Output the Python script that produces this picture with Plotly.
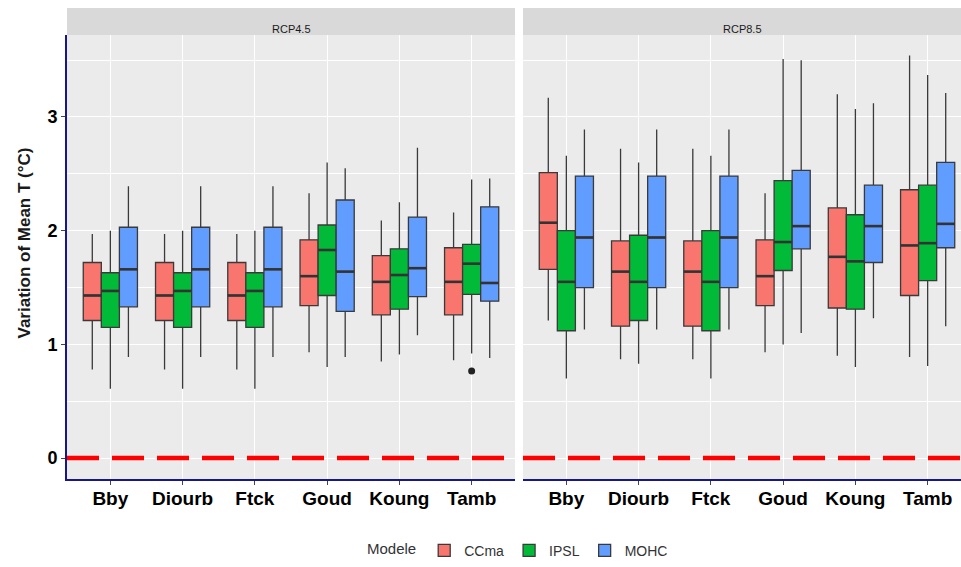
import plotly.graph_objects as go

# ---- data ----------------------------------------------------------------
stations = ["Bby", "Diourb", "Ftck", "Goud", "Koung", "Tamb"]
models = ["CCma", "IPSL", "MOHC"]
scenarios = ["RCP4.5", "RCP8.5"]

# RCP4.5 box statistics per model (one value per station)
rcp45_ccma_low = [0.78, 0.78, 0.78, 0.93, 0.85, 0.86]
rcp45_ccma_q1 = [1.21, 1.21, 1.21, 1.34, 1.26, 1.26]
rcp45_ccma_med = [1.43, 1.43, 1.43, 1.60, 1.55, 1.55]
rcp45_ccma_q3 = [1.72, 1.72, 1.72, 1.92, 1.78, 1.85]
rcp45_ccma_up = [1.97, 1.97, 1.97, 2.33, 2.09, 2.16]

rcp45_ipsl_low = [0.61, 0.61, 0.61, 0.80, 0.91, 0.92]
rcp45_ipsl_q1 = [1.15, 1.15, 1.15, 1.43, 1.31, 1.44]
rcp45_ipsl_med = [1.47, 1.47, 1.47, 1.83, 1.61, 1.71]
rcp45_ipsl_q3 = [1.63, 1.63, 1.63, 2.05, 1.84, 1.88]
rcp45_ipsl_up = [2.00, 2.00, 2.00, 2.60, 2.25, 2.45]

rcp45_mohc_low = [0.89, 0.89, 0.89, 0.89, 1.08, 0.88]
rcp45_mohc_q1 = [1.33, 1.33, 1.33, 1.29, 1.42, 1.38]
rcp45_mohc_med = [1.66, 1.66, 1.66, 1.64, 1.67, 1.54]
rcp45_mohc_q3 = [2.03, 2.03, 2.03, 2.27, 2.12, 2.21]
rcp45_mohc_up = [2.39, 2.39, 2.39, 2.55, 2.73, 2.46]

# RCP8.5 box statistics per model
rcp85_ccma_low = [1.21, 0.87, 0.87, 0.93, 0.90, 0.89]
rcp85_ccma_q1 = [1.66, 1.16, 1.16, 1.34, 1.32, 1.43]
rcp85_ccma_med = [2.07, 1.64, 1.64, 1.60, 1.77, 1.87]
rcp85_ccma_q3 = [2.51, 1.91, 1.91, 1.92, 2.20, 2.36]
rcp85_ccma_up = [3.17, 2.72, 2.72, 2.33, 3.20, 3.54]

rcp85_ipsl_low = [0.70, 0.83, 0.70, 1.00, 0.80, 0.81]
rcp85_ipsl_q1 = [1.12, 1.21, 1.12, 1.65, 1.31, 1.56]
rcp85_ipsl_med = [1.55, 1.55, 1.55, 1.90, 1.73, 1.89]
rcp85_ipsl_q3 = [2.00, 1.96, 2.00, 2.44, 2.14, 2.40]
rcp85_ipsl_up = [2.66, 2.60, 2.66, 3.51, 3.07, 3.37]

rcp85_mohc_low = [1.13, 1.13, 1.13, 1.10, 1.23, 1.16]
rcp85_mohc_q1 = [1.50, 1.50, 1.50, 1.84, 1.72, 1.85]
rcp85_mohc_med = [1.94, 1.94, 1.94, 2.04, 2.04, 2.06]
rcp85_mohc_q3 = [2.48, 2.48, 2.48, 2.53, 2.40, 2.60]
rcp85_mohc_up = [2.89, 2.89, 2.89, 3.50, 3.12, 3.21]

# single outlier: RCP4.5, IPSL, Tamb
outlier_station = "Tamb"
outlier_model = "IPSL"
outlier_value = 0.765

y_ticks = [0, 1, 2, 3]
y_title = "Variation of Mean T (°C)"

# ---- styling -------------------------------------------------------------
fill_colors = {"CCma": "#F8766D", "IPSL": "#00BA38", "MOHC": "#619CFF"}
dodge = {"CCma": -0.25, "IPSL": 0.0, "MOHC": 0.25}
box_w = 0.25
font_family = "Liberation Sans, Arial, sans-serif"
navy = "#16168F"

stats = {
    "RCP4.5": {
        "CCma": (rcp45_ccma_low, rcp45_ccma_q1, rcp45_ccma_med, rcp45_ccma_q3, rcp45_ccma_up),
        "IPSL": (rcp45_ipsl_low, rcp45_ipsl_q1, rcp45_ipsl_med, rcp45_ipsl_q3, rcp45_ipsl_up),
        "MOHC": (rcp45_mohc_low, rcp45_mohc_q1, rcp45_mohc_med, rcp45_mohc_q3, rcp45_mohc_up),
    },
    "RCP8.5": {
        "CCma": (rcp85_ccma_low, rcp85_ccma_q1, rcp85_ccma_med, rcp85_ccma_q3, rcp85_ccma_up),
        "IPSL": (rcp85_ipsl_low, rcp85_ipsl_q1, rcp85_ipsl_med, rcp85_ipsl_q3, rcp85_ipsl_up),
        "MOHC": (rcp85_mohc_low, rcp85_mohc_q1, rcp85_mohc_med, rcp85_mohc_q3, rcp85_mohc_up),
    },
}

axes = {"RCP4.5": ("x", "y"), "RCP8.5": ("x2", "y2")}
cat_pos = {s: i + 1 for i, s in enumerate(stations)}

fig = go.Figure()

for si, scen in enumerate(scenarios):
    xa, ya = axes[scen]
    for m in models:
        low, q1, med, q3, up = stats[scen][m]
        xs = [cat_pos[s] + dodge[m] for s in stations]
        fig.add_trace(go.Box(
            x=xs, lowerfence=low, q1=q1, median=med, q3=q3, upperfence=up,
            orientation="v", width=box_w, whiskerwidth=0, boxpoints=False,
            fillcolor=fill_colors[m], line=dict(color="#3a3a3a", width=1.3),
            name=m, legendgroup=m, showlegend=(si == 0),
            xaxis=xa, yaxis=ya, hoverinfo="skip",
        ))
        # thicker median bars
        mx, my = [], []
        for x, v in zip(xs, med):
            mx += [x - box_w / 2, x + box_w / 2, None]
            my += [v, v, None]
        fig.add_trace(go.Scatter(
            x=mx, y=my, mode="lines", line=dict(color="#333333", width=2.6),
            showlegend=False, hoverinfo="skip", xaxis=xa, yaxis=ya,
        ))

fig.add_trace(go.Scatter(
    x=[cat_pos[outlier_station] + dodge[outlier_model]], y=[outlier_value],
    mode="markers", marker=dict(color="#222222", size=7),
    showlegend=False, hoverinfo="skip", xaxis="x", yaxis="y",
))

# ---- layout ----------------------------------------------------------------
W, H = 961, 567
ml, mr, mt, mb = 67, 0, 8, 86
plot_w = W - ml - mr
plot_h = H - mt - mb
strip_h = 27
y_top = 1 - strip_h / plot_h

left_px = 515 - ml
right_start = (523 - ml) / plot_w
px_per_unit = left_px / 6.2
right_max = 0.4 + (W - 523) / px_per_unit

y_range = [-0.184, 3.722]

common_x = dict(
    tickvals=list(range(1, 7)), ticktext=stations,
    showgrid=True, gridcolor="white", gridwidth=1.3, zeroline=False,
    showline=True, linecolor=navy, linewidth=2,
    ticks="outside", ticklen=4, tickcolor="#444444", ticklabelstandoff=-3,
    tickfont=dict(family=font_family, size=19, color="black", weight="bold"),
)
common_y = dict(
    range=y_range, tickvals=y_ticks, showgrid=True, gridcolor="white",
    gridwidth=1.3, zeroline=False, domain=[0, y_top],
    minor=dict(tickvals=[0.5, 1.5, 2.5, 3.5], showgrid=True,
               gridcolor="white", gridwidth=0.6),
)

fig.update_layout(
    width=W, height=H,
    margin=dict(l=ml, r=mr, t=mt, b=mb),
    paper_bgcolor="white", plot_bgcolor="#EBEBEB",
    boxmode="overlay",
    font=dict(family=font_family, color="#333333"),
    xaxis=dict(domain=[0, left_px / plot_w], range=[0.4, 6.6], anchor="y", **common_x),
    xaxis2=dict(domain=[right_start, 1], range=[0.4, right_max], anchor="y2", **common_x),
    yaxis=dict(anchor="x", showline=True, linecolor=navy, linewidth=2,
               ticks="outside", ticklen=4, tickcolor="#444444",
               tickfont=dict(family=font_family, size=18, color="black", weight="bold"),
               **common_y),
    yaxis2=dict(anchor="x2", matches="y", showticklabels=False, showline=False,
                ticks="", **common_y),
    legend=dict(
        orientation="h", x=(519 - ml) / plot_w, xanchor="center",
        y=-(553 - (H - mb)) / plot_h, yanchor="middle",
        title=dict(text="Modele", font=dict(size=15, color="#333333")),
        font=dict(size=14, color="#333333"),
        bgcolor="rgba(0,0,0,0)",
    ),
    showlegend=True,
)

shapes = []
annotations = []
for scen in scenarios:
    xa, ya = axes[scen]
    # facet strip
    shapes.append(dict(type="rect", xref=f"{xa} domain", yref="paper",
                       x0=0, x1=1, y0=y_top, y1=1,
                       fillcolor="#D9D9D9", line=dict(width=0), layer="below"))
    annotations.append(dict(text=scen, xref=f"{xa} domain", yref="paper",
                            x=0.5, y=(1 + y_top) / 2, showarrow=False,
                            font=dict(size=11, color="#1A1A1A")))
    # zero reference line
    shapes.append(dict(type="line", xref=f"{xa} domain", yref=ya,
                       x0=0, x1=1, y0=0, y1=0,
                       line=dict(color="#FF0000", width=4.5, dash="32px,13px"),
                       layer="above"))

annotations.append(dict(text=y_title, xref="paper", yref="paper",
                        x=(24 - ml) / plot_w, y=0.5, textangle=-90, showarrow=False,
                        xanchor="center", yanchor="middle",
                        font=dict(size=17, color="#1A1A1A", weight="bold")))

fig.update_layout(shapes=shapes, annotations=annotations)

fig.write_html("out.html")
